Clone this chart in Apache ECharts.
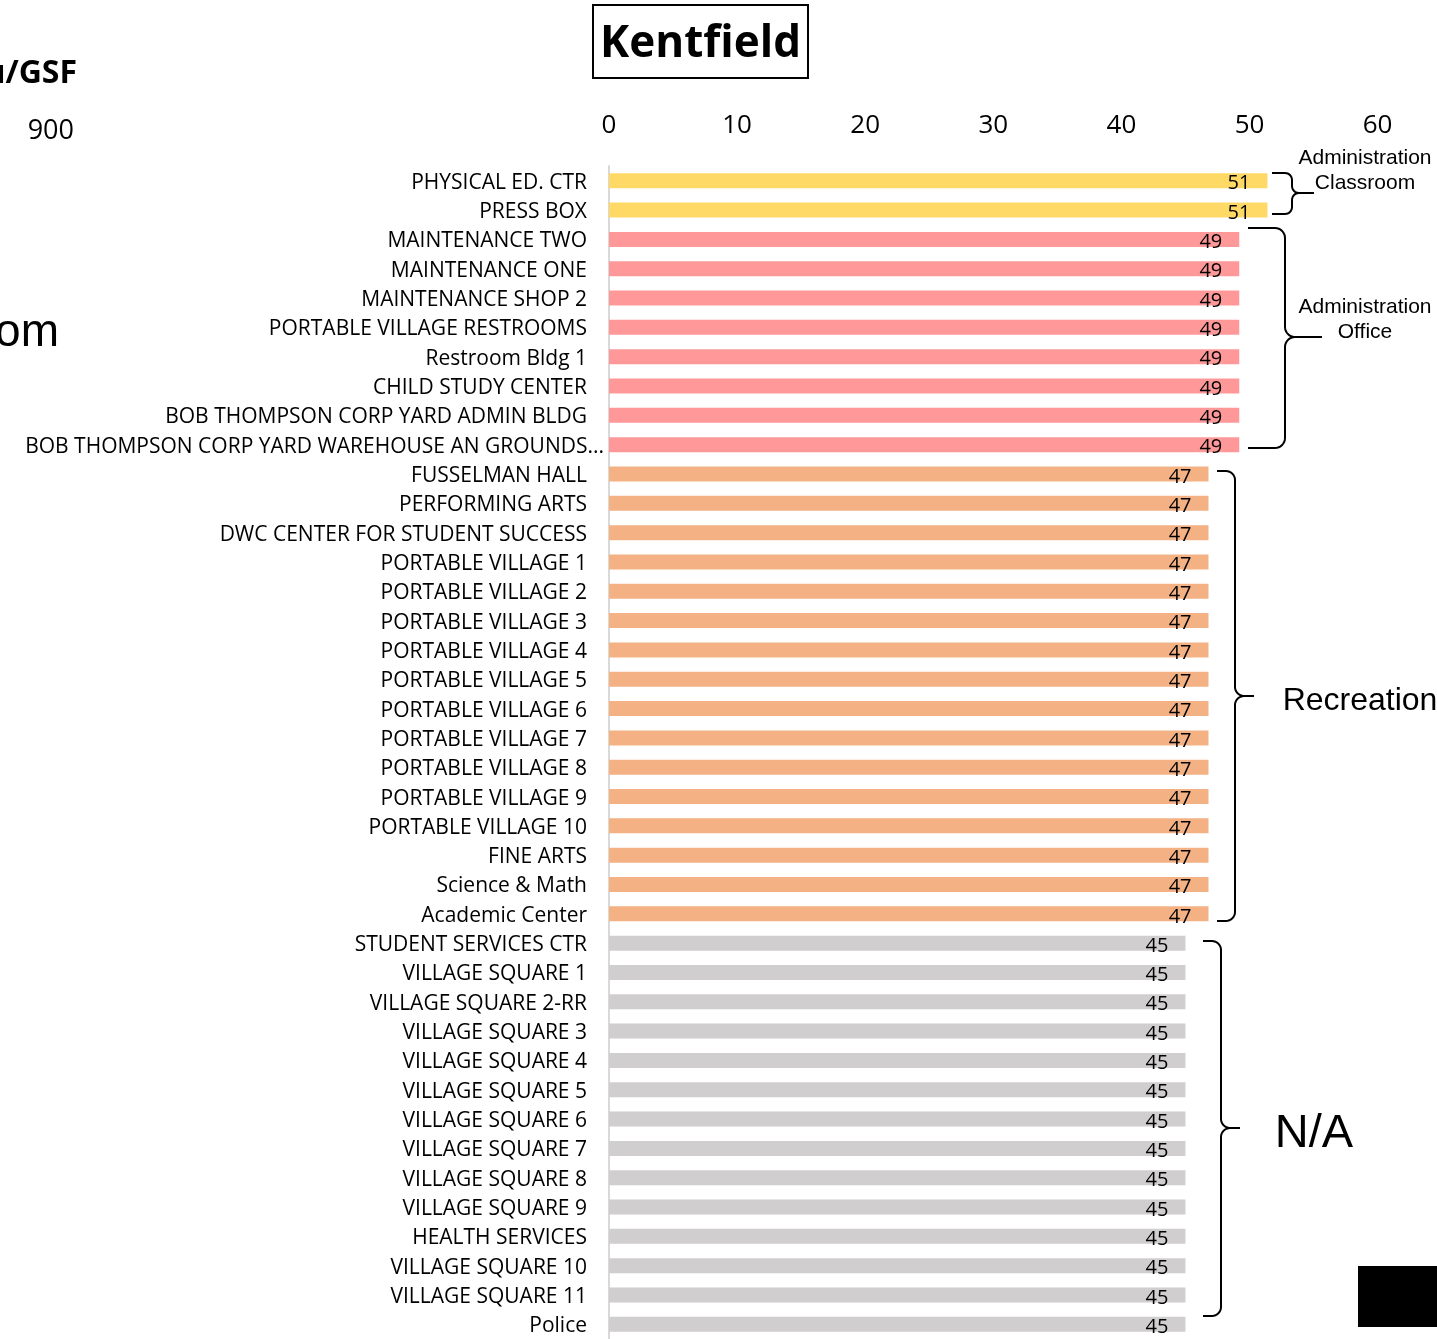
<!DOCTYPE html>
<html>
<head>
<meta charset="utf-8">
<script src="https://cdn.jsdelivr.net/npm/echarts@6/dist/echarts.min.js"></script>
<style>
html,body{margin:0;padding:0;background:#fff;}
#chart{width:1437px;height:1339px;}
</style>
</head>
<body>
<div id="chart"></div>
<script>
// ---- data ----
const categories = [
  'PHYSICAL ED. CTR', 'PRESS BOX',
  'MAINTENANCE TWO', 'MAINTENANCE ONE', 'MAINTENANCE SHOP 2', 'PORTABLE VILLAGE RESTROOMS',
  'Restroom Bldg 1', 'CHILD STUDY CENTER', 'BOB THOMPSON CORP YARD ADMIN BLDG',
  'BOB THOMPSON CORP YARD WAREHOUSE AN GROUNDS...',
  'FUSSELMAN HALL', 'PERFORMING ARTS', 'DWC CENTER FOR STUDENT SUCCESS',
  'PORTABLE VILLAGE 1', 'PORTABLE VILLAGE 2', 'PORTABLE VILLAGE 3', 'PORTABLE VILLAGE 4',
  'PORTABLE VILLAGE 5', 'PORTABLE VILLAGE 6', 'PORTABLE VILLAGE 7', 'PORTABLE VILLAGE 8',
  'PORTABLE VILLAGE 9', 'PORTABLE VILLAGE 10', 'FINE ARTS', 'Science & Math', 'Academic Center',
  'STUDENT SERVICES CTR', 'VILLAGE SQUARE 1', 'VILLAGE SQUARE 2-RR', 'VILLAGE SQUARE 3',
  'VILLAGE SQUARE 4', 'VILLAGE SQUARE 5', 'VILLAGE SQUARE 6', 'VILLAGE SQUARE 7',
  'VILLAGE SQUARE 8', 'VILLAGE SQUARE 9', 'HEALTH SERVICES', 'VILLAGE SQUARE 10',
  'VILLAGE SQUARE 11', 'Police'
];
const values = [
  51.4, 51.4,
  49.2, 49.2, 49.2, 49.2, 49.2, 49.2, 49.2, 49.2,
  46.8, 46.8, 46.8, 46.8, 46.8, 46.8, 46.8, 46.8, 46.8, 46.8, 46.8, 46.8, 46.8, 46.8, 46.8, 46.8,
  45, 45, 45, 45, 45, 45, 45, 45, 45, 45, 45, 45, 45, 45
];
const groupOf = [
  0, 0,
  1, 1, 1, 1, 1, 1, 1, 1,
  2, 2, 2, 2, 2, 2, 2, 2, 2, 2, 2, 2, 2, 2, 2, 2,
  3, 3, 3, 3, 3, 3, 3, 3, 3, 3, 3, 3, 3, 3
];
const groupColors = ['#FFD966', '#FF9999', '#F4B183', '#D0CECE'];
const xTicks = [0, 10, 20, 30, 40, 50, 60];
const title = 'Kentfield';

// ---- chart ----
const chart = echarts.init(document.getElementById('chart'), null, {renderer: 'canvas'});

function bracePoints(x0, x1, x2, yT, yM, yB, r) {
  const pts = [];
  pts.push([x0, yT]);
  const seg = 8;
  for (let i = 0; i <= seg; i++) {
    const a = -Math.PI / 2 + (Math.PI / 2) * i / seg;
    pts.push([x1 - r + r * Math.cos(a), yT + r + r * Math.sin(a)]);
  }
  for (let i = 0; i <= seg; i++) {
    const a = Math.PI - (Math.PI / 2) * i / seg;
    pts.push([x1 + r + r * Math.cos(a), yM - r + r * Math.sin(a)]);
  }
  pts.push([x2, yM]);
  for (let i = 0; i <= seg; i++) {
    const a = -Math.PI / 2 - (Math.PI / 2) * i / seg;
    pts.push([x1 + r + r * Math.cos(a), yM + r + r * Math.sin(a)]);
  }
  for (let i = 0; i <= seg; i++) {
    const a = (Math.PI / 2) * i / seg;
    pts.push([x1 - r + r * Math.cos(a), yB - r + r * Math.sin(a)]);
  }
  pts.push([x0, yB]);
  return pts;
}

function brace(x0, x1, x2, yT, yM, yB, r) {
  return {
    type: 'polyline',
    shape: {points: bracePoints(x0, x1, x2, yT, yM, yB, r)},
    style: {stroke: '#000', lineWidth: 2, fill: null},
    silent: true
  };
}

function txt(text, x, y, size, opts) {
  return {
    type: 'text', x: x, y: y, silent: true,
    style: Object.assign({
      text: text, fontSize: size, fontFamily: 'Liberation Sans',
      fill: '#000', align: 'center', verticalAlign: 'middle'
    }, opts || {})
  };
}

// the truncated label's "..." overflows past the label column, as in the original
const yData = categories.map(c => c.slice(-3) === '...'
  ? {value: c, textStyle: {padding: [4, -17, 0, 0]}}
  : c);

const option = {
  backgroundColor: '#fff',
  animation: false,
  grid: {left: 609, top: 166.1, width: 768.6, height: 1174.4, containLabel: false},
  xAxis: {
    type: 'value', position: 'top', min: 0, max: 60, interval: 10,
    axisLine: {show: false}, axisTick: {show: false}, splitLine: {show: false},
    axisLabel: {
      fontSize: 26, color: '#000', fontFamily: 'Open Sans', margin: 28,
      formatter: v => xTicks.indexOf(v) >= 0 ? String(v) : ''
    }
  },
  yAxis: {
    type: 'category', inverse: true, data: yData,
    axisLine: {show: true, lineStyle: {color: '#D9D9D9', width: 2}},
    axisTick: {show: false},
    axisLabel: {
      fontSize: 21, color: '#000', fontFamily: 'Open Sans', margin: 22, interval: 0,
      padding: [4, 0, 0, 0],
      rich: {n: {fontSize: 21, color: '#000', fontFamily: 'Open Sans'}}
    }
  },
  series: [{
    type: 'bar',
    barWidth: 15,
    data: values.map((v, i) => ({value: v, itemStyle: {color: groupColors[groupOf[i]]}})),
    label: {
      show: true, position: 'insideRight', offset: [-12, 3],
      fontSize: 20, color: '#000', fontFamily: 'Open Sans',
      formatter: p => String(Math.round(p.value))
    }
  }],
  graphic: [
    {type: 'rect', shape: {x: 593, y: 5, width: 215, height: 73},
     style: {stroke: '#000', lineWidth: 2, fill: null}, silent: true},
    txt(title, 700.5, 44, 44, {fontFamily: 'Open Sans', fontWeight: 'bold'}),
    txt('kBtu/GSF', 77, 74, 32, {fontFamily: 'Open Sans', fontWeight: 'bold', align: 'right'}),
    txt('900', 74, 131, 27, {fontFamily: 'Open Sans', align: 'right'}),
    txt('Classroom', 59, 333, 46, {align: 'right'}),
    brace(1272, 1292, 1314, 173, 193, 214, 7),
    txt('Administration\nClassroom', 1365, 170.5, 21, {lineHeight: 25}),
    brace(1248, 1285, 1322, 228, 337, 448, 10),
    txt('Administration\nOffice', 1365, 320, 21, {lineHeight: 25}),
    brace(1217, 1235, 1254, 471, 696, 921, 9),
    txt('Recreation', 1360, 701, 32),
    brace(1203, 1221, 1240, 941, 1128, 1316, 9),
    txt('N/A', 1314, 1134.5, 47),
    {type: 'rect', shape: {x: 1358, y: 1266, width: 79, height: 61},
     style: {fill: '#000'}, silent: true}
  ]
};
chart.setOption(option);
</script>
</body>
</html>
